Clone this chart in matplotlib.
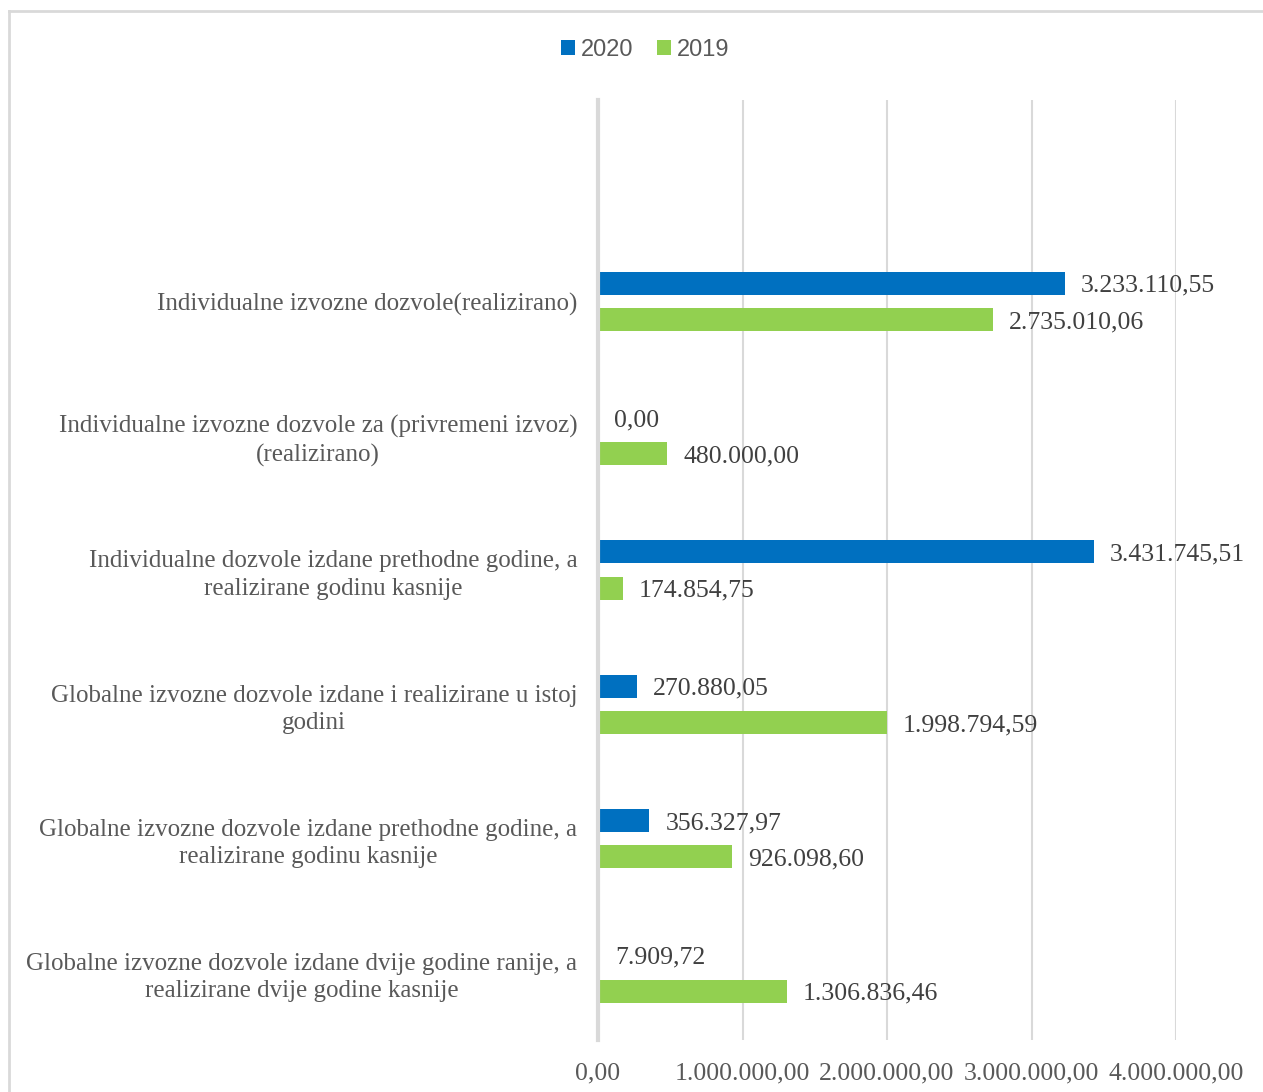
import numpy as np
import matplotlib
matplotlib.use("Agg")
import matplotlib.pyplot as plt
from matplotlib.lines import Line2D

# podaci
categories = [
    "Individualne izvozne dozvole(realizirano)",
    "Individualne izvozne dozvole za (privremeni izvoz)\n(realizirano)",
    "Individualne dozvole izdane prethodne godine, a\nrealizirane godinu kasnije",
    "Globalne izvozne dozvole izdane i realizirane u istoj\ngodini",
    "Globalne izvozne dozvole izdane prethodne godine, a\nrealizirane godinu kasnije",
    "Globalne izvozne dozvole izdane dvije godine ranije, a\nrealizirane dvije godine kasnije",
]
values_2020 = [3233110.55, 0.00, 3431745.51, 270880.05, 356327.97, 7909.72]
values_2019 = [2735010.06, 480000.00, 174854.75, 1998794.59, 926098.60, 1306836.46]
xticks = [0, 1e6, 2e6, 3e6, 4e6]

c2020 = "#0070c0"
c2019 = "#92d050"
serif = ["Liberation Serif", "DejaVu Serif"]


def fmt(v):
    s = f"{v:,.2f}"
    return s.replace(",", "X").replace(".", ",").replace("X", ".")


fig = plt.figure(figsize=(12.63, 10.92), dpi=100)
ax = fig.add_axes([598 / 1263, 52 / 1092, (1176 - 598) / 1263, 940 / 1092])

y = np.arange(len(categories))
h = 0.171
off = 0.136
ax.barh(y - off, values_2020, height=h, color=c2020, label="2020", zorder=3)
ax.barh(y + off, values_2019, height=h, color=c2019, label="2019", zorder=3)

for i in range(len(categories)):
    ax.text(values_2020[i] + 110000, y[i] - off + 0.02, fmt(values_2020[i]), va="center", ha="left",
            fontsize=18.5, family=serif, color="#404040", zorder=4)
    ax.text(values_2019[i] + 110000, y[i] + off + 0.02, fmt(values_2019[i]), va="center", ha="left",
            fontsize=18.5, family=serif, color="#404040", zorder=4)

ax.set_xlim(0, 4e6)
ax.set_ylim(5.5, -1.5)
ax.set_xticks(xticks)
ax.set_xticklabels([fmt(v) for v in xticks], family=serif, fontsize=18.5, color="#595959")
ax.set_yticks(y)
ax.set_yticklabels(categories, family=serif, fontsize=18, color="#595959",
                   ha="right", multialignment="center", linespacing=1.3)
ax.tick_params(axis="both", length=0)
ax.tick_params(axis="x", pad=16)
ax.tick_params(axis="y", pad=15)
ax.grid(axis="x", color="#d9d9d9", linewidth=1.5, zorder=0)
for s in ["top", "right", "bottom"]:
    ax.spines[s].set_visible(False)
ax.spines["left"].set_color("#d9d9d9")
ax.spines["left"].set_linewidth(3)
ax.spines["left"].set_zorder(5)

# okvir
fig.add_artist(Line2D([9 / 1263, 9 / 1263], [0, 1 - 11 / 1092], color="#d9d9d9", lw=2,
                      transform=fig.transFigure))
fig.add_artist(Line2D([9 / 1263, 1], [1 - 11 / 1092, 1 - 11 / 1092], color="#d9d9d9", lw=2,
                      transform=fig.transFigure))

leg = fig.legend(loc="center", bbox_to_anchor=(645 / 1263, 1 - 50 / 1092), ncol=2, frameon=False,
                 prop={"family": "Liberation Sans", "size": 17}, handlelength=0.6, handleheight=0.6,
                 handletextpad=0.25, columnspacing=1.0)
for t in leg.get_texts():
    t.set_color("#595959")

fig.savefig("out.png", dpi=100)
